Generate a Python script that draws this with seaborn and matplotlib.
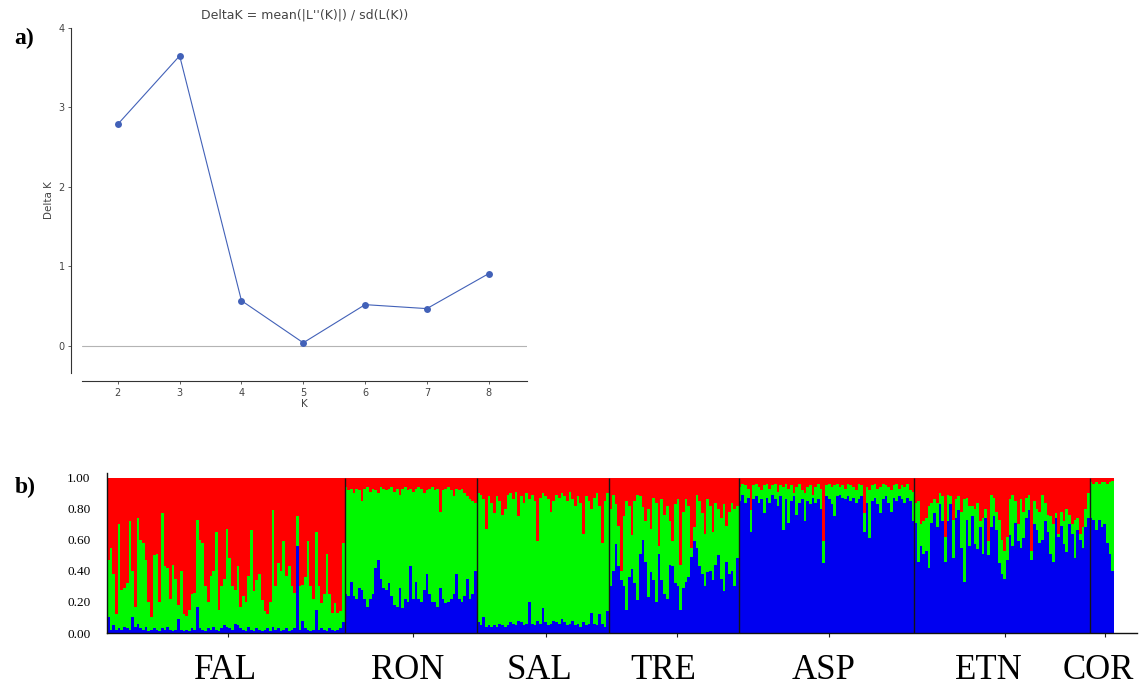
import matplotlib
matplotlib.use("Agg")
import matplotlib.pyplot as plt
import matplotlib.transforms as mtransforms
import pandas as pd
import seaborn as sns

# a) Evanno delta K
k_values = [2, 3, 4, 5, 6, 7, 8]
delta_k = [2.79, 3.65, 0.57, 0.04, 0.52, 0.47, 0.91]

# b) STRUCTURE membership (K=3), percent per individual
# *_blue = blue cluster share, *_top = blue + green share (red is the rest)
populations = ["FAL", "RON", "SAL", "TRE", "ASP", "ETN", "COR"]

fal_blue = [10, 2, 5, 2, 3, 2, 4, 3, 2, 10, 4, 6, 3, 2, 4, 1, 2, 3, 2, 1,
            3, 2, 4, 2, 1, 2, 9, 2, 1, 2, 1, 3, 2, 17, 3, 2, 1, 3, 2, 4,
            2, 1, 3, 5, 4, 3, 2, 6, 5, 3, 2, 1, 4, 2, 1, 3, 2, 1, 2, 3,
            1, 4, 2, 3, 1, 2, 3, 1, 2, 3, 56, 2, 8, 3, 2, 1, 2, 15, 2, 3,
            2, 1, 3, 2, 1, 2, 3, 7]
fal_top = [47, 55, 38, 12, 70, 28, 29, 32, 72, 40, 17, 74, 60, 58, 47, 20, 10, 50, 51, 20,
           77, 43, 42, 22, 44, 35, 18, 40, 12, 11, 15, 25, 26, 73, 60, 58, 30, 20, 37, 40,
           65, 15, 30, 35, 67, 48, 30, 28, 43, 17, 24, 20, 37, 66, 27, 34, 38, 21, 14, 12,
           20, 79, 30, 45, 40, 59, 37, 43, 30, 26, 75, 30, 31, 36, 59, 30, 22, 65, 30, 19,
           25, 51, 25, 13, 19, 13, 14, 58]

ron_blue = [25, 24, 33, 24, 22, 29, 28, 22, 17, 22, 25, 42, 47, 35, 29, 28, 32, 24, 18, 17,
            29, 16, 22, 20, 43, 22, 33, 22, 20, 28, 38, 25, 20, 20, 17, 29, 22, 19, 20, 22,
            25, 38, 22, 20, 24, 35, 22, 25, 40]
ron_top = [94, 92, 93, 90, 93, 92, 85, 93, 94, 91, 93, 92, 90, 94, 93, 92, 93, 94, 91, 93,
           89, 93, 94, 92, 93, 91, 93, 94, 93, 90, 92, 93, 94, 92, 93, 78, 92, 93, 94, 92,
           88, 93, 92, 93, 90, 88, 86, 85, 84]

sal_blue = [7, 5, 10, 4, 5, 4, 5, 4, 6, 5, 4, 5, 7, 6, 5, 8, 7, 5, 6, 20,
            6, 5, 8, 6, 16, 7, 5, 6, 8, 7, 6, 9, 7, 5, 6, 8, 5, 6, 4, 7,
            5, 6, 13, 6, 5, 12, 6, 4, 14]
sal_top = [90, 89, 86, 67, 88, 84, 77, 88, 85, 76, 80, 89, 90, 86, 91, 75, 88, 84, 90, 86,
           89, 85, 59, 87, 90, 88, 86, 78, 85, 89, 87, 90, 88, 85, 91, 86, 82, 88, 84, 64,
           88, 85, 80, 87, 90, 82, 58, 85, 90]

tre_blue = [30, 40, 57, 43, 34, 30, 15, 36, 41, 32, 21, 51, 60, 46, 23, 39, 34, 20, 51, 34,
            25, 22, 44, 43, 32, 30, 15, 29, 33, 36, 49, 59, 55, 43, 38, 30, 39, 40, 34, 44,
            50, 35, 27, 46, 38, 40, 30, 48]
tre_top = [80, 89, 83, 69, 40, 75, 85, 82, 63, 85, 89, 88, 81, 72, 80, 67, 87, 84, 56, 86,
           76, 82, 72, 59, 83, 86, 44, 78, 86, 82, 55, 68, 89, 85, 77, 64, 86, 82, 65, 84,
           80, 74, 83, 69, 78, 84, 80, 82]

asp_blue = [85, 89, 84, 87, 65, 86, 88, 84, 86, 77, 87, 84, 89, 86, 82, 88, 66, 86, 71, 85,
            88, 76, 84, 86, 72, 85, 83, 87, 84, 86, 80, 45, 88, 86, 83, 75, 88, 89, 87, 86,
            88, 85, 87, 84, 86, 88, 65, 84, 61, 85, 87, 83, 77, 86, 88, 84, 78, 87, 85, 88,
            86, 84, 87, 85, 72]
asp_top = [94, 96, 95, 93, 79, 95, 96, 94, 92, 95, 96, 93, 95, 96, 91, 95, 94, 96, 93, 95,
           90, 94, 96, 92, 90, 94, 95, 89, 94, 96, 93, 59, 95, 96, 94, 95, 96, 94, 95, 93,
           96, 95, 94, 92, 96, 95, 77, 94, 92, 95, 96, 93, 94, 96, 95, 94, 92, 95, 96, 93,
           95, 94, 96, 92, 91]

etn_blue = [71, 46, 56, 51, 53, 42, 71, 77, 68, 83, 72, 46, 72, 83, 48, 74, 79, 55, 33, 73,
            56, 75, 57, 54, 68, 51, 74, 50, 68, 75, 66, 45, 38, 35, 47, 63, 56, 71, 59, 55,
            61, 74, 79, 47, 70, 66, 58, 60, 72, 65, 51, 46, 74, 62, 69, 57, 52, 70, 64, 48,
            66, 60, 55, 68, 74]
etn_top = [84, 85, 70, 72, 74, 82, 84, 86, 84, 90, 88, 62, 89, 88, 73, 86, 88, 78, 86, 87,
           82, 82, 80, 84, 72, 74, 80, 59, 89, 87, 78, 73, 60, 53, 62, 86, 89, 85, 70, 86,
           78, 87, 89, 53, 85, 80, 78, 89, 84, 76, 75, 70, 77, 64, 78, 72, 80, 76, 70, 73,
           74, 64, 68, 80, 90]

cor_blue = [74, 73, 66, 73, 68, 70, 58, 51, 40]
cor_top = [97, 96, 97, 96, 97, 97, 96, 97, 98]

blue_by_pop = [fal_blue, ron_blue, sal_blue, tre_blue, asp_blue, etn_blue, cor_blue]
top_by_pop = [fal_top, ron_top, sal_top, tre_top, asp_top, etn_top, cor_top]

cluster_colors = {"red": "#ff0000", "green": "#00f800", "blue": "#0000f0"}

# long table: one row per individual and cluster
rows = []
ind = 0
pop_sizes = []
for pop, blues, tops in zip(populations, blue_by_pop, top_by_pop):
    pop_sizes.append(len(blues))
    for b, t in zip(blues, tops):
        rows.append((ind, pop, "blue", b / 100))
        rows.append((ind, pop, "green", (t - b) / 100))
        rows.append((ind, pop, "red", (100 - t) / 100))
        ind += 1
df = pd.DataFrame(rows, columns=["ind", "pop", "cluster", "q"])
n_ind = ind

sns.set_style("ticks")
plt.rcParams["font.family"] = ["DejaVu Sans"]
serif = ["Liberation Serif", "DejaVu Serif"]

W, H = 1146, 690
fig = plt.figure(figsize=(W / 100, H / 100), dpi=100)

# ---- panel a ----
ax_a = fig.add_axes([82 / W, 1 - 373 / H, 445 / W, 345 / H])
ax_a.axhline(0, color="#b4b4b4", linewidth=0.8, zorder=0)
sns.lineplot(x=k_values, y=delta_k, ax=ax_a, color="#4261b8", linewidth=0.8,
             marker="o", markersize=5, markeredgewidth=0)
ax_a.set_xlim(1.42, 8.62)
ax_a.set_ylim(-0.34, 4.0)
ax_a.set_xticks(k_values)
ax_a.set_yticks([0, 1, 2, 3, 4])
ax_a.tick_params(labelsize=7, colors="#444444", length=2.5, width=0.6, pad=2)
ax_a.set_xlabel("K", fontsize=7.5, color="#444444", labelpad=1)
ax_a.set_ylabel("Delta K", fontsize=7.5, color="#444444", labelpad=3)
ax_a.set_title("DeltaK = mean(|L''(K)|) / sd(L(K))", fontsize=9, color="#444444", pad=7)
sns.despine(ax=ax_a, offset={"left": 8, "bottom": 6})
for side in ["left", "bottom"]:
    ax_a.spines[side].set_color("#333333")
    ax_a.spines[side].set_linewidth(0.8)

# ---- panel b ----
px_per_ind = 1007 / n_ind
ax_b = fig.add_axes([107 / W, 1 - 633 / H, 1030 / W, 160 / H])
sns.histplot(data=df, x="ind", weights="q", hue="cluster",
             hue_order=["red", "green", "blue"], palette=cluster_colors,
             multiple="stack", discrete=True, shrink=1, alpha=1,
             linewidth=0, antialiased=False, legend=False, ax=ax_b)

edges = [0]
for n in pop_sizes:
    edges.append(edges[-1] + n)
for e in edges[1:-1]:
    ax_b.vlines(e - 0.5, 0, 1, color="#151515", linewidth=1)

ax_b.set_xlim(-0.5, -0.5 + 1030 / px_per_ind)
ax_b.set_ylim(0, 1.03)
ax_b.set_yticks([0, 0.2, 0.4, 0.6, 0.8, 1.0])
ax_b.set_yticklabels([f"{v:.2f}" for v in [0, 0.2, 0.4, 0.6, 0.8, 1.0]],
                     family=serif, fontsize=9.5, color="black")
ax_b.tick_params(axis="y", length=0, pad=12)
centers = [(edges[i] + edges[i + 1] - 1) / 2 for i in range(len(populations))]
ax_b.set_xticks([c + 1 for c in centers])
ax_b.set_xticklabels([])
ax_b.tick_params(axis="x", length=3, width=0.8, color="#222222")
ax_b.set_xlabel("")
ax_b.set_ylabel("")
sns.despine(ax=ax_b)
for side in ["left", "bottom"]:
    ax_b.spines[side].set_color("#111111")
    ax_b.spines[side].set_linewidth(1)

label_nudge_px = [0, -3, -4, -11, -3, -13, -4]
trans = mtransforms.blended_transform_factory(ax_b.transData, ax_b.transAxes)
for pop, c, dx in zip(populations, centers, label_nudge_px):
    ax_b.text(c + dx / px_per_ind, -0.235, pop, transform=trans, ha="center",
              va="center", fontsize=25, family=serif, color="black")

fig.text(24 / W, 1 - 38 / H, "a)", fontsize=17, weight="bold", family=serif,
         ha="center", va="center", color="black")
fig.text(25 / W, 1 - 487 / H, "b)", fontsize=17, weight="bold", family=serif,
         ha="center", va="center", color="black")

fig.savefig("out.png", dpi=100, facecolor="white")
